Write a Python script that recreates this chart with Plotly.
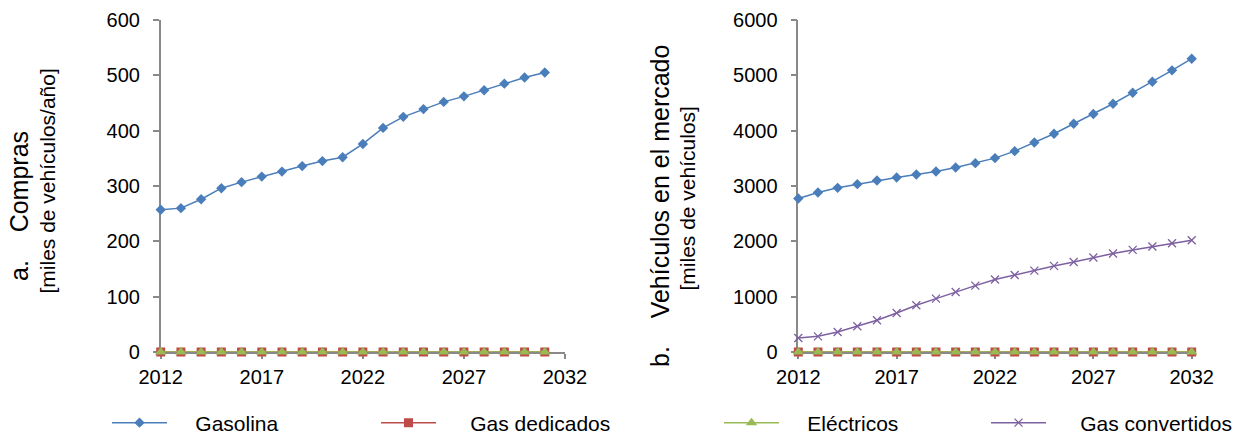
import plotly.graph_objects as go

# Años de la proyección
years_compras = list(range(2012, 2032))      # 2012-2031
years_mercado = list(range(2012, 2033))      # 2012-2032

# a. Compras [miles de vehículos/año]
compras_gasolina = [257, 260, 276, 296, 307, 317, 326, 336, 345, 352,
                    376, 405, 425, 439, 452, 462, 473, 485, 496, 505]
compras_gas_dedicados = [0] * 20
compras_electricos = [0] * 20

# b. Vehículos en el mercado [miles de vehículos]
mercado_gasolina = [2774, 2882, 2967, 3033, 3100, 3154, 3208, 3262, 3335, 3413,
                    3504, 3630, 3787, 3944, 4125, 4300, 4486, 4686, 4885, 5090, 5301]
mercado_gas_dedicados = [0] * 21
mercado_electricos = [0] * 21
mercado_gas_convertidos = [253, 283, 362, 464, 573, 706, 844, 965, 1085, 1200,
                           1309, 1393, 1471, 1556, 1628, 1707, 1779, 1845, 1906, 1966, 2020]

W, H = 1243, 436
FONT = "Liberation Sans, Arial, sans-serif"
AXIS_GREY = "#898989"

BLUE = "#4A7EBB"
RED = "#BE4B48"
GREEN = "#98B954"
PURPLE = "#7D60A0"


def px_x(p):
    return p / W


def px_y(p):
    return (H - p) / H


def pad(label, n):
    # leading non-breaking spaces widen the gap between legend symbol and label
    return "\u00a0" * n + label


fig = go.Figure()

common = dict(mode="lines+markers", cliponaxis=False)

# Panel a
fig.add_trace(go.Scatter(x=years_compras, y=compras_gasolina, name=pad("Gasolina", 4),
                         line=dict(color=BLUE, width=1.5),
                         marker=dict(symbol="diamond", size=8, color=BLUE),
                         xaxis="x", yaxis="y", legend="legend", **common))
fig.add_trace(go.Scatter(x=years_compras, y=compras_gas_dedicados, name=pad("Gas dedicados", 5),
                         line=dict(color=RED, width=1.5),
                         marker=dict(symbol="square", size=9, color=RED),
                         xaxis="x", yaxis="y", legend="legend2", **common))
fig.add_trace(go.Scatter(x=years_compras, y=compras_electricos, name=pad("Eléctricos", 4),
                         line=dict(color=GREEN, width=1.5),
                         marker=dict(symbol="triangle-up", size=10, color=GREEN),
                         xaxis="x", yaxis="y", legend="legend3", **common))

# Panel b
fig.add_trace(go.Scatter(x=years_mercado, y=mercado_gasolina, name="Gasolina",
                         line=dict(color=BLUE, width=1.5),
                         marker=dict(symbol="diamond", size=8, color=BLUE),
                         xaxis="x2", yaxis="y2", showlegend=False, **common))
fig.add_trace(go.Scatter(x=years_mercado, y=mercado_gas_dedicados, name="Gas dedicados",
                         line=dict(color=RED, width=1.5),
                         marker=dict(symbol="square", size=9, color=RED),
                         xaxis="x2", yaxis="y2", showlegend=False, **common))
fig.add_trace(go.Scatter(x=years_mercado, y=mercado_electricos, name="Eléctricos",
                         line=dict(color=GREEN, width=1.5),
                         marker=dict(symbol="triangle-up", size=10, color=GREEN),
                         xaxis="x2", yaxis="y2", showlegend=False, **common))
fig.add_trace(go.Scatter(x=years_mercado, y=mercado_gas_convertidos, name=pad("Gas convertidos", 5),
                         line=dict(color=PURPLE, width=1.5),
                         marker=dict(symbol="x-thin", size=8,
                                     line=dict(color=PURPLE, width=1.3)),
                         xaxis="x2", yaxis="y2", legend="legend4", **common))

xaxis_style = dict(range=[2012, 2032], tick0=2012, dtick=5, showgrid=False, zeroline=False,
                   showline=True, linecolor=AXIS_GREY, linewidth=1.5,
                   ticks="outside", ticklen=5, tickcolor=AXIS_GREY, tickwidth=1.5,
                   tickfont=dict(family=FONT, size=20, color="#000"),
                   ticklabelstandoff=1, automargin=False, layer="below traces")
yaxis_style = dict(showgrid=False, zeroline=False,
                   showline=True, linecolor=AXIS_GREY, linewidth=1.5,
                   ticks="outside", ticklen=6, tickcolor=AXIS_GREY, tickwidth=1.5,
                   tickfont=dict(family=FONT, size=20, color="#000"),
                   ticklabelstandoff=9, automargin=False, layer="below traces",
                   domain=[px_y(352), px_y(20)])

fig.update_layout(
    width=W, height=H,
    margin=dict(l=0, r=0, t=0, b=0, autoexpand=False),
    paper_bgcolor="white", plot_bgcolor="white",
    font=dict(family=FONT, color="#000"),
    xaxis=dict(domain=[px_x(160.7), px_x(565)], anchor="y", **xaxis_style),
    yaxis=dict(range=[0, 600], dtick=100, anchor="x", **yaxis_style),
    xaxis2=dict(domain=[px_x(798.3), px_x(1191.7)], anchor="y2", **xaxis_style),
    yaxis2=dict(range=[0, 6000], dtick=1000, anchor="x2", **yaxis_style),
)

legend_common = dict(orientation="h", yanchor="middle", y=px_y(423), xanchor="left",
                     itemwidth=55, bgcolor="rgba(0,0,0,0)",
                     font=dict(family=FONT, size=21, color="#000"))
fig.update_layout(
    legend=dict(x=px_x(107), **legend_common),
    legend2=dict(x=px_x(376), **legend_common),
    legend3=dict(x=px_x(719), **legend_common),
    legend4=dict(x=px_x(986), **legend_common),
)

nb = "\u00a0" * 4
annotations = [
    dict(text="a." + nb + "Compras", x=px_x(19), y=px_y(206), font=dict(size=25)),
    dict(text="[miles de vehículos/año]", x=px_x(47), y=px_y(181.5), font=dict(size=21)),
    dict(text="b." + nb + "Vehículos en el mercado", x=px_x(660), y=px_y(206), font=dict(size=25)),
    dict(text="[miles de vehículos]", x=px_x(687), y=px_y(198.5), font=dict(size=21)),
]
for a in annotations:
    a.update(xref="paper", yref="paper", showarrow=False, textangle=-90,
             xanchor="center", yanchor="middle")
    a["font"].update(family=FONT, color="#000")
fig.update_layout(annotations=annotations)

fig.write_html("out.html")
